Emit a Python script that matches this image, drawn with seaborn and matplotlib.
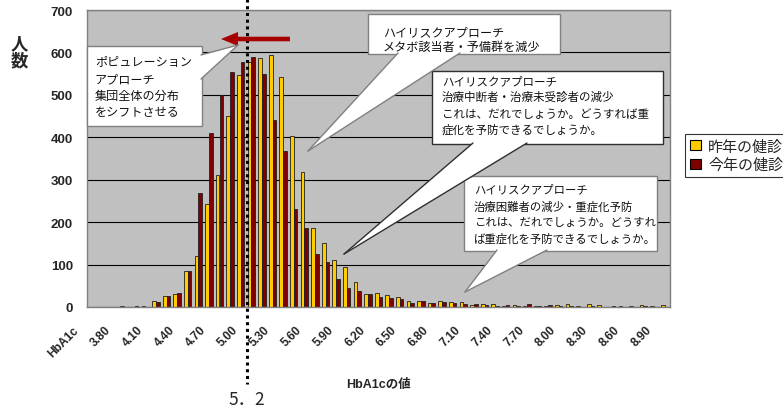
import matplotlib
matplotlib.use("Agg")
import matplotlib.pyplot as plt
import matplotlib.transforms as mtransforms
from matplotlib.patches import Polygon, Rectangle, Patch
from matplotlib.lines import Line2D
import seaborn as sns
import pandas as pd

# ---------------- data ----------------
categories = ["HbA1c", "3.60", "3.70", "3.80", "3.90", "4.00", "4.10", "4.20", "4.30", "4.40",
              "4.50", "4.60", "4.70", "4.80", "4.90", "5.00", "5.10", "5.20", "5.30", "5.40",
              "5.50", "5.60", "5.70", "5.80", "5.90", "6.00", "6.10", "6.20", "6.30", "6.40",
              "6.50", "6.60", "6.70", "6.80", "6.90", "7.00", "7.10", "7.20", "7.30", "7.40",
              "7.50", "7.60", "7.70", "7.80", "7.90", "8.00", "8.10", "8.20", "8.30", "8.40",
              "8.50", "8.60", "8.70", "8.80", "8.90"]
last_year = [0, 0, 0, 2, 1, 2, 13, 26, 30, 84,
             121, 243, 310, 451, 546, 577, 587, 593, 541, 402,
             318, 187, 152, 110, 95, 58, 30, 33, 29, 23,
             15, 15, 9, 15, 11, 11, 5, 7, 7, 3,
             4, 2, 3, 2, 5, 6, 2, 6, 4, 0,
             2, 3, 4, 2, 4]
this_year = [0, 0, 0, 1, 2, 1, 12, 25, 32, 84,
             269, 411, 500, 555, 577, 590, 549, 440, 368, 230,
             187, 125, 105, 67, 44, 38, 30, 24, 22, 20,
             10, 15, 10, 12, 10, 7, 7, 5, 3, 5,
             3, 6, 2, 5, 2, 3, 1, 2, 1, 2,
             1, 0, 2, 1, 0]
series_names = ["昨年の健診", "今年の健診"]
tick_labels = categories[::3]
y_ticks = [0, 100, 200, 300, 400, 500, 600, 700]
line_value_label = "5．2"

df = pd.DataFrame({
    "HbA1c": categories * 2,
    "人数": last_year + this_year,
    "series": [series_names[0]] * len(categories) + [series_names[1]] * len(categories),
})

# ---------------- style ----------------
sns.set_style("white")
plt.rcParams["font.family"] = ["Liberation Sans", "Noto Sans CJK JP"]
W, H = 783, 410
fig = plt.figure(figsize=(W / 100, H / 100), dpi=100)
ax = fig.add_axes([87 / W, 1 - 308 / H, (670 - 87) / W, (308 - 11) / H])

colors = ["#FFCC00", "#800000"]
sns.barplot(data=df, x="HbA1c", y="人数", hue="series", order=categories,
            hue_order=series_names, palette=colors, saturation=1, width=0.7,
            edgecolor="#202020", linewidth=0.6, legend=False, ax=ax)

ax.set_facecolor("#C0C0C0")
ax.set_ylim(0, 700)
ax.set_xlim(-0.5, len(categories) - 0.5)
ax.set_yticks(y_ticks)
ax.yaxis.grid(True, color="black", linewidth=0.8)
ax.set_axisbelow(True)
for s in ax.spines.values():
    s.set_color("#808080")
    s.set_linewidth(1.0)
ax.tick_params(axis="y", length=0, pad=10)
for t in ax.get_yticklabels():
    t.set_fontsize(9.5)
    t.set_fontweight("bold")

ax.set_xticks(range(0, len(categories), 3))
ax.set_xticklabels(tick_labels, rotation=45, ha="right", va="center",
                   rotation_mode="anchor", fontsize=8.6, fontweight="bold")
ax.set_xticks([i + 0.5 for i in range(len(categories) - 1)], minor=True)
ax.tick_params(axis="x", which="major", length=0, pad=15)
ax.tick_params(axis="x", which="minor", length=3, direction="in", color="black", width=0.8)
offset = mtransforms.ScaledTranslation(-15 / 100, 0, fig.dpi_scale_trans)
for t in ax.get_xticklabels():
    t.set_transform(t.get_transform() + offset)

ax.set_xlabel("HbA1cの値", fontsize=9, fontweight="bold", labelpad=14)
ax.set_ylabel("")
fig.text(19 / W, 1 - 53 / H, "人\n数", fontsize=12.5, fontweight="bold",
         ha="center", va="center", linespacing=1.0)


def P(x, y):
    return (x / W, 1 - y / H)


# dotted 5.2 line
blend = mtransforms.blended_transform_factory(ax.transData, fig.transFigure)
xline = 14.57
fig.add_artist(Line2D([xline, xline], [1.0, 1 - 385 / H], transform=blend,
                      color="black", linewidth=2.2, linestyle=(0, (1, 1.2)), zorder=6))
fig.text(247 / W, 1 - 400 / H, line_value_label, fontsize=12.5, ha="center", va="center",
         family=["Noto Sans CJK JP"])

# arrow
arrow_pts = [(290, 37.7), (238, 37.7), (238, 33), (221, 40), (238, 47), (238, 42.3), (290, 42.3)]
fig.add_artist(Polygon([P(*p) for p in arrow_pts], closed=True, transform=fig.transFigure,
                       facecolor="#A80000", edgecolor="none", zorder=7))


def callout(box, base, tip, lines, line_y, text_x, edge="#808080", fs=8.4):
    x0, y0, x1, y1 = box
    fig.add_artist(Rectangle(P(x0, y1), (x1 - x0) / W, (y1 - y0) / H,
                             transform=fig.transFigure, facecolor="white",
                             edgecolor=edge, linewidth=1.0, zorder=8))
    (bx0, by0), (bx1, by1) = base
    fig.add_artist(Polygon([P(bx0, by0), P(tip[0], tip[1]), P(bx1, by1)], closed=True,
                           transform=fig.transFigure, facecolor="white",
                           edgecolor="none", zorder=8.5))
    for b in (base[0], base[1]):
        fig.add_artist(Line2D([b[0] / W, tip[0] / W], [1 - b[1] / H, 1 - tip[1] / H],
                              transform=fig.transFigure, color=edge, linewidth=1.0,
                              zorder=8.6))
    for ln, yy in zip(lines, line_y):
        fig.text(text_x / W, 1 - yy / H, ln, fontsize=fs, ha="left", va="center",
                 color="#111111", zorder=9)


callout((87, 47, 202, 127), [(201, 56), (201, 80)], (238, 46),
        ["ポピュレーション", "アプローチ", "集団全体の分布", "をシフトさせる"],
        [63, 80, 97, 113], 95, fs=8.7)
callout((368, 15, 560, 55), [(398, 54), (460, 54)], (308, 152),
        ["ハイリスクアプローチ", "メタボ該当者・予備群を減少"],
        [33, 48], 383, fs=8.7)
callout((432, 72, 663, 145), [(473, 144), (527, 144)], (344, 255),
        ["ハイリスクアプローチ", "治療中断者・治療未受診者の減少",
         "これは、だれでしょうか。どうすれば重", "症化を予防できるでしょうか。"],
        [82, 98, 115, 131], 442, edge="#303030", fs=8.3)
callout((464, 177, 657, 252), [(497, 251), (547, 251)], (465, 293),
        ["ハイリスクアプローチ", "治療困難者の減少・重症化予防",
         "これは、だれでしょうか。どうすれ", "ば重症化を予防できるでしょうか。"],
        [190, 207, 223, 239], 474, fs=8.2)

# legend
handles = [Patch(facecolor=c, edgecolor="black", linewidth=0.8) for c in colors]
leg = fig.legend(handles, series_names, loc="upper left", bbox_to_anchor=P(685, 135),
                 bbox_transform=fig.transFigure, frameon=True, fancybox=False,
                 edgecolor="black", fontsize=10.8, handlelength=0.7, handleheight=0.7,
                 handletextpad=0.5, labelspacing=0.3, borderpad=0.35, borderaxespad=0)
leg.get_frame().set_linewidth(0.8)

fig.savefig("out.png", dpi=100)
